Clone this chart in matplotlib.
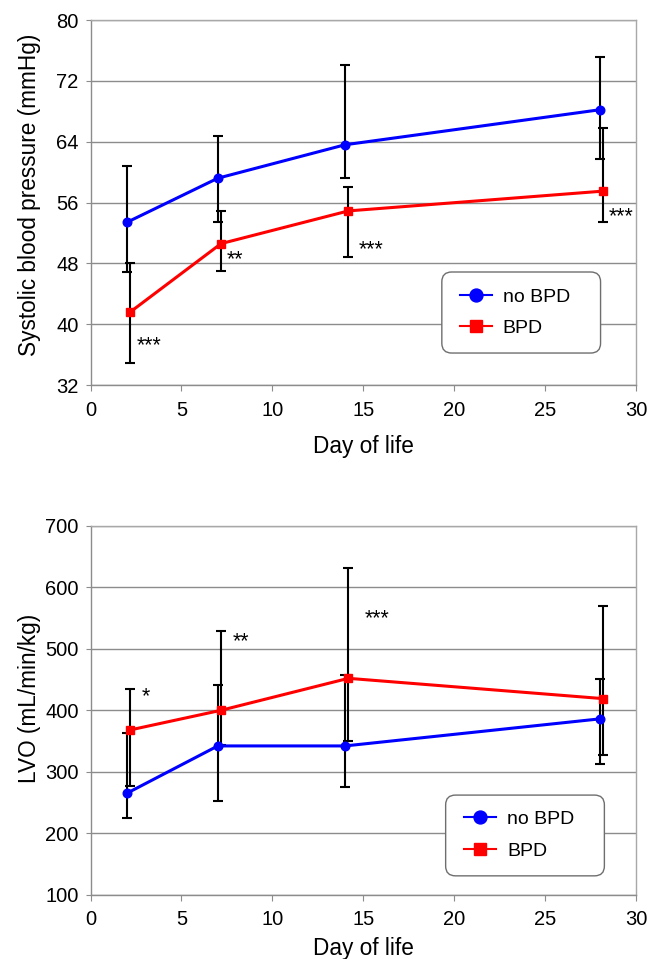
import matplotlib
matplotlib.use("Agg")
from matplotlib import pyplot as plt
from matplotlib.patches import FancyBboxPatch
import numpy as np

plt.rcParams['font.family'] = ['Liberation Sans', 'DejaVu Sans']

days = [2, 7, 14, 28]

# systolic blood pressure (mmHg)
sbp_nobpd = [53.4, 59.2, 63.6, 68.2]
sbp_nobpd_hi = [60.8, 64.8, 74.1, 75.1]
sbp_nobpd_lo = [46.8, 53.4, 59.2, 61.7]
sbp_bpd = [41.6, 50.6, 54.9, 57.5]
sbp_bpd_hi = [48.0, 54.9, 58.0, 65.8]
sbp_bpd_lo = [34.9, 47.0, 48.9, 53.4]
sbp_stars = ["***", "**", "***", "***"]

# left ventricular output (mL/min/kg)
lvo_nobpd = [265, 342, 342, 386]
lvo_nobpd_hi = [363, 441, 458, 451]
lvo_nobpd_lo = [224, 253, 275, 312]
lvo_bpd = [368, 400, 452, 419]
lvo_bpd_hi = [435, 529, 632, 569]
lvo_bpd_lo = [277, 343, 350, 328]
lvo_stars = ["*", "**", "***", ""]

BPD_SHIFT = 0.18
GRID = '#8c8c8c'
STAR_FS = 15.5


def style_axes(ax, ylim, yticks, ylabel, ylab_y):
    ax.set_xlim(0, 30)
    ax.set_ylim(*ylim)
    ax.set_xticks(range(0, 31, 5))
    ax.set_yticks(yticks)
    ax.yaxis.grid(True, color=GRID, linewidth=1)
    ax.set_axisbelow(True)
    for s in ax.spines.values():
        s.set_color('#a8a8a8')
        s.set_linewidth(1)
    ax.spines['left'].set_color(GRID)
    ax.spines['bottom'].set_color(GRID)
    ax.tick_params(axis='y', direction='out', length=3.6, color=GRID, labelsize=14.5, pad=5)
    ax.tick_params(axis='x', direction='out', length=4.3, color=GRID, labelsize=14.5, pad=7)
    ax.set_ylabel(ylabel, fontsize=16.3)
    ax.yaxis.set_label_coords(-0.09, ylab_y)


def draw_series(ax, x, y, lo, hi, color, marker, label):
    y = np.array(y)
    err = [y - np.array(lo), np.array(hi) - y]
    ax.errorbar(x, y, yerr=err, fmt='none', ecolor='black', elinewidth=1.5,
                capsize=3.6, capthick=1.5, zorder=2)
    ax.plot(x, y, color=color, marker=marker, markersize=6.2, linewidth=2.2,
            label=label, zorder=3)


def add_legend(ax, box, anchor):
    bx, by, bw, bh = box
    aspect = (ax.bbox.width / ax.bbox.height)
    patch = FancyBboxPatch((bx, by), bw, bh, transform=ax.transAxes,
                           boxstyle='round,pad=0,rounding_size=0.018',
                           mutation_aspect=aspect, facecolor='white',
                           edgecolor='#6e6e6e', linewidth=1, zorder=4)
    ax.add_patch(patch)
    leg = ax.legend(loc='center left', bbox_to_anchor=anchor, borderaxespad=0,
                    borderpad=0, frameon=False, fontsize=14, handlelength=1.65,
                    handletextpad=0.56, labelspacing=0.72, markerscale=1.5)
    leg.set_zorder(5)
    for line in leg.get_lines():
        line.set_linewidth(1.5)


def add_stars(ax, stars, pos):
    for s, (sx, sy) in zip(stars, pos):
        if s:
            ax.annotate(s, xy=(sx, sy), xytext=(0, -0.4 * STAR_FS),
                        textcoords='offset points', fontsize=STAR_FS,
                        ha='left', va='baseline')


fig = plt.figure(figsize=(6.49, 9.59), dpi=100)
ax1 = fig.add_axes([0.1395, 0.5985, 0.8405, 0.3806])
ax2 = fig.add_axes([0.1395, 0.0671, 0.8405, 0.3845])

x_bpd = [d + BPD_SHIFT for d in days]

# top panel
draw_series(ax1, days, sbp_nobpd, sbp_nobpd_lo, sbp_nobpd_hi, '#0000ff', 'o', 'no BPD')
draw_series(ax1, x_bpd, sbp_bpd, sbp_bpd_lo, sbp_bpd_hi, '#ff0000', 's', 'BPD')
style_axes(ax1, (32, 80), range(32, 81, 8), 'Systolic blood pressure (mmHg)', 0.52)
ax1.set_xlabel('Day of life', fontsize=16.3, va='center')
ax1.xaxis.set_label_coords(0.5, -0.169)
add_stars(ax1, sbp_stars, [(2.55, 37.6), (7.5, 48.9), (14.75, 50.2), (28.5, 54.5)])
add_legend(ax1, (0.644, 0.0877, 0.291, 0.222), (0.677, 0.1986))

# bottom panel
draw_series(ax2, days, lvo_nobpd, lvo_nobpd_lo, lvo_nobpd_hi, '#0000ff', 'o', 'no BPD')
draw_series(ax2, x_bpd, lvo_bpd, lvo_bpd_lo, lvo_bpd_hi, '#ff0000', 's', 'BPD')
style_axes(ax2, (100, 700), range(100, 701, 100), 'LVO (mL/min/kg)', 0.533)
ax2.set_xlabel('Day of life', fontsize=16.3, va='center')
ax2.xaxis.set_label_coords(0.5, -0.146)
add_stars(ax2, lvo_stars, [(2.82, 427), (7.8, 516), (15.1, 554), (0, 0)])
add_legend(ax2, (0.651, 0.051, 0.291, 0.219), (0.685, 0.162))

fig.savefig('out.png', dpi=100)
